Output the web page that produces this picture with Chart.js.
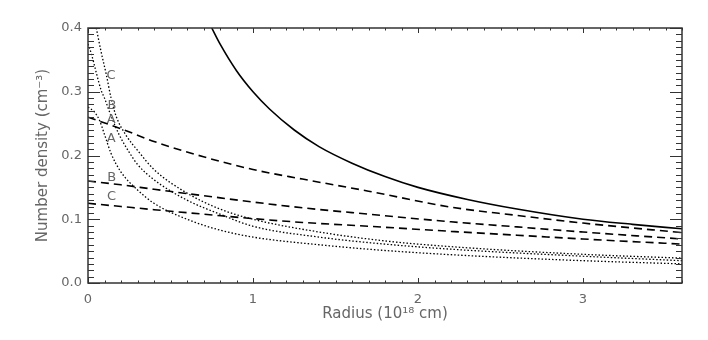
<!DOCTYPE html>
<html>
<head>
<meta charset="utf-8">
<script src="https://cdn.jsdelivr.net/npm/chart.js@4"></script>
<style>
  html, body { margin: 0; padding: 0; background: #fff; }
  #chart { display: block; }
</style>
</head>
<body>
<canvas id="chart" width="708" height="340"></canvas>
<script>
// radius in 10^18 cm, density in cm^-3
var solidR = [0.75, 0.8, 0.9, 1.0, 1.1, 1.25, 1.4, 1.6, 1.8, 2.0, 2.3, 2.6, 3.0, 3.3, 3.6];
var solidN = [0.400, 0.375, 0.333, 0.300, 0.273, 0.240, 0.214, 0.188, 0.167, 0.150, 0.131, 0.116, 0.100, 0.092, 0.085];

var dashR = [0, 0.2, 0.4, 0.7, 1.0, 1.3, 1.7, 2.2, 2.6, 3.0, 3.6];
var dashA = [0.260, 0.242, 0.222, 0.198, 0.178, 0.163, 0.144, 0.119, 0.106, 0.094, 0.079];
var dashB = [0.160, 0.154, 0.147, 0.137, 0.127, 0.118, 0.108, 0.096, 0.088, 0.080, 0.069];
var dashC = [0.125, 0.120, 0.115, 0.108, 0.101, 0.095, 0.089, 0.081, 0.075, 0.069, 0.061];

var dotAR = [0, 0.04, 0.07, 0.1, 0.14, 0.2, 0.3, 0.4, 0.6, 0.8, 1.0, 1.4, 1.8, 2.3, 3.0, 3.6];
var dotAN = [0.276, 0.268, 0.255, 0.233, 0.203, 0.174, 0.146, 0.125, 0.100, 0.083, 0.072, 0.060, 0.051, 0.043, 0.035, 0.030];
var dotBR = [0, 0.02, 0.05, 0.08, 0.1, 0.14, 0.19, 0.25, 0.3, 0.4, 0.6, 0.8, 1.0, 1.4, 1.8, 2.2, 3.0, 3.6];
var dotBN = [0.375, 0.360, 0.330, 0.302, 0.290, 0.262, 0.232, 0.205, 0.186, 0.162, 0.130, 0.108, 0.089, 0.072, 0.061, 0.053, 0.042, 0.035];
var dotCR = [0.05, 0.08, 0.11, 0.14, 0.17, 0.23, 0.31, 0.4, 0.6, 0.8, 1.0, 1.4, 1.8, 2.2, 3.0, 3.6];
var dotCN = [0.400, 0.362, 0.328, 0.290, 0.262, 0.232, 0.205, 0.178, 0.141, 0.116, 0.100, 0.080, 0.066, 0.057, 0.045, 0.039];

var curveLabels = ["C", "B", "A", "A", "B", "C"];
var labelR = [0.14, 0.145, 0.14, 0.14, 0.143, 0.143];
var labelN = [0.325, 0.278, 0.256, 0.227, 0.166, 0.135];

var xTicks = [0, 1, 2, 3];
var yTicks = [0.0, 0.1, 0.2, 0.3, 0.4];

function pairs(xs, ys) {
  return xs.map(function (x, i) { return { x: x, y: ys[i] }; });
}

function line(data, dash, width) {
  return {
    data: data,
    borderColor: "#000",
    borderWidth: width,
    borderDash: dash,
    pointRadius: 0,
    fill: false,
    cubicInterpolationMode: "monotone"
  };
}

var textColor = "#666";
var axisColor = "#333";

// box, inward ticks on all four sides, and the A/B/C tags
var idlFrame = {
  id: "idlFrame",
  afterDraw: function (chart) {
    var ctx = chart.ctx;
    var a = chart.chartArea;
    var xs = chart.scales.x, ys = chart.scales.y;
    ctx.save();
    ctx.strokeStyle = axisColor;
    ctx.lineWidth = 1.5;
    ctx.strokeRect(a.left, a.top, a.right - a.left, a.bottom - a.top);

    ctx.lineWidth = 1;
    ctx.beginPath();
    for (var i = 0; i <= 36; i++) {
      var px = Math.round(xs.getPixelForValue(i / 10)) + 0.5;
      var len = (i % 10 === 0) ? 5 : 2.5;
      ctx.moveTo(px, a.bottom); ctx.lineTo(px, a.bottom - len);
      ctx.moveTo(px, a.top); ctx.lineTo(px, a.top + len);
    }
    for (var j = 0; j <= 40; j++) {
      var py = Math.round(ys.getPixelForValue(j / 100)) + 0.5;
      var l2 = (j % 10 === 0) ? 12 : 6;
      ctx.moveTo(a.left, py); ctx.lineTo(a.left + l2, py);
      ctx.moveTo(a.right, py); ctx.lineTo(a.right - l2, py);
    }
    ctx.stroke();

    ctx.fillStyle = textColor;
    ctx.font = "13px 'DejaVu Sans'";
    ctx.textAlign = "center";
    ctx.textBaseline = "middle";
    curveLabels.forEach(function (t, k) {
      ctx.fillText(t, xs.getPixelForValue(labelR[k]), ys.getPixelForValue(labelN[k]));
    });
    ctx.restore();
  }
};

Chart.defaults.font.family = "'DejaVu Sans'";
Chart.defaults.color = textColor;

new Chart(document.getElementById("chart"), {
  type: "line",
  data: {
    datasets: [
      line(pairs(solidR, solidN), [], 1.6),
      line(pairs(dashR, dashA), [8, 5], 1.6),
      line(pairs(dashR, dashB), [8, 5], 1.6),
      line(pairs(dashR, dashC), [8, 5], 1.6),
      line(pairs(dotAR, dotAN), [1.5, 2], 1.3),
      line(pairs(dotBR, dotBN), [1.5, 2], 1.3),
      line(pairs(dotCR, dotCN), [1.5, 2], 1.3)
    ]
  },
  options: {
    responsive: false,
    animation: false,
    devicePixelRatio: 1,
    layout: { padding: { top: 28, right: 26, left: 0, bottom: 0 } },
    plugins: { legend: { display: false }, tooltip: { enabled: false } },
    scales: {
      x: {
        type: "linear",
        min: 0,
        max: 3.6,
        grid: { display: false, drawTicks: false },
        border: { display: false },
        afterFit: function (s) { s.height = 57; },
        afterBuildTicks: function (s) { s.ticks = xTicks.map(function (v) { return { value: v }; }); },
        ticks: {
          padding: 9,
          maxRotation: 0,
          autoSkip: false,
          font: { size: 13 },
          color: textColor,
          callback: function (v) { return String(v); }
        },
        title: {
          display: true,
          text: "Radius (10¹⁸ cm)",
          font: { size: 15 },
          color: textColor,
          padding: { top: 0, bottom: 17 }
        }
      },
      y: {
        type: "linear",
        min: 0,
        max: 0.4,
        grid: { display: false, drawTicks: false },
        border: { display: false },
        afterFit: function (s) { s.width = 88; },
        afterBuildTicks: function (s) { s.ticks = yTicks.map(function (v) { return { value: v }; }); },
        ticks: {
          padding: 6,
          autoSkip: false,
          font: { size: 13 },
          color: textColor,
          callback: function (v) { return v.toFixed(1); }
        },
        title: {
          display: true,
          text: "Number density (cm⁻³)",
          font: { size: 15 },
          color: textColor,
          padding: { top: 34, bottom: 0 }
        }
      }
    }
  },
  plugins: [idlFrame]
});
</script>
</body>
</html>
